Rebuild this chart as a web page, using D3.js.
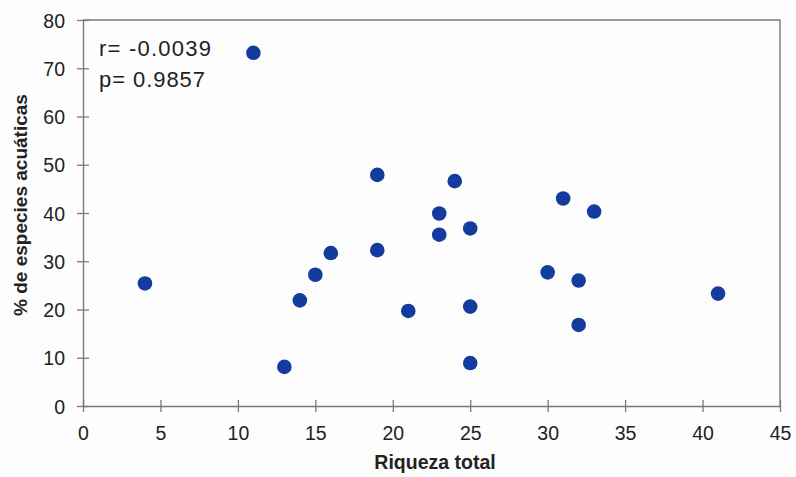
<!DOCTYPE html>
<html>
<head>
<meta charset="utf-8">
<script src="https://cdn.jsdelivr.net/npm/d3@7"></script>
<style>
  html, body { margin: 0; padding: 0; background: #fdfdfd; }
  svg { display: block; font-family: Arial, "Liberation Sans", sans-serif; }
</style>
</head>
<body>
<svg id="chart" width="796" height="477"></svg>
<script>
// Total richness per site (x) and % of aquatic species (y)
const riqueza = [4, 11, 13, 14, 15, 16, 19, 19, 21, 23, 23, 24, 25, 25, 25, 30, 31, 32, 32, 33, 41];
const pctAcuaticas = [25.4, 73.2, 8.1, 21.9, 27.2, 31.7, 47.9, 32.3, 19.7, 39.9, 35.5, 46.6, 36.8, 20.6, 8.9, 27.7, 43.0, 26.0, 16.8, 40.3, 23.3];
const xTicks = [0, 5, 10, 15, 20, 25, 30, 35, 40, 45];
const yTicks = [0, 10, 20, 30, 40, 50, 60, 70, 80];
const statLines = ["r= -0.0039", "p= 0.9857"];
const xTitle = "Riqueza total";
const yTitle = "% de especies acuáticas";

const svg = d3.select("#chart");
const plotLeft = 83, plotRight = 780, plotTop = 20, plotBottom = 406;

const x = d3.scaleLinear().domain([0, 45]).range([plotLeft, plotRight]);
const y = d3.scaleLinear().domain([0, 80]).range([plotBottom, plotTop]);

const axisColor = "#7a7a7a";
const textColor = "#222";

// plot frame (top and right edges)
svg.append("path")
  .attr("d", `M${plotLeft},${plotTop}H${plotRight}V${plotBottom}`)
  .attr("fill", "none")
  .attr("stroke", axisColor)
  .attr("stroke-width", 1.4);

// x axis with ticks crossing the line
const gx = svg.append("g")
  .attr("transform", `translate(0,${plotBottom})`)
  .call(d3.axisBottom(x).tickValues(xTicks).tickSize(6).tickSizeOuter(0).tickPadding(14));
gx.selectAll(".tick line").attr("y1", -6).attr("y2", 6);

// y axis with ticks crossing the line
const gy = svg.append("g")
  .attr("transform", `translate(${plotLeft},0)`)
  .call(d3.axisLeft(y).tickValues(yTicks).tickSize(6).tickSizeOuter(0).tickPadding(12));
gy.selectAll(".tick line").attr("x1", -6).attr("x2", 6);

[gx, gy].forEach(g => {
  g.select(".domain").attr("stroke", axisColor).attr("stroke-width", 1.4);
  g.selectAll(".tick line").attr("stroke", axisColor).attr("stroke-width", 1.3);
  g.selectAll(".tick text")
    .attr("fill", textColor)
    .style("font-size", "19.5px");
});
gy.selectAll(".tick text").attr("dy", "0.36em");

// data points
svg.append("g")
  .selectAll("circle")
  .data(riqueza.map((d, i) => ({ x: d, y: pctAcuaticas[i] })))
  .join("circle")
  .attr("cx", d => x(d.x))
  .attr("cy", d => y(d.y))
  .attr("r", 7.3)
  .attr("fill", "#143c9e");

// correlation annotation
svg.append("g")
  .selectAll("text")
  .data(statLines)
  .join("text")
  .attr("x", 99)
  .attr("y", (d, i) => 56 + i * 31)
  .attr("fill", textColor)
  .style("font-size", "22px")
  .attr("textLength", (d, i) => i === 0 ? 112 : 106)
  .attr("lengthAdjust", "spacing")
  .text(d => d);

// axis titles
svg.append("text")
  .attr("x", 435)
  .attr("y", 469)
  .attr("text-anchor", "middle")
  .attr("fill", textColor)
  .style("font-size", "19.5px")
  .style("font-weight", "bold")
  .text(xTitle);

svg.append("text")
  .attr("transform", "translate(27,205) rotate(-90)")
  .attr("text-anchor", "middle")
  .attr("fill", textColor)
  .style("font-size", "19px")
  .style("font-weight", "bold")
  .text(yTitle);
</script>
</body>
</html>
